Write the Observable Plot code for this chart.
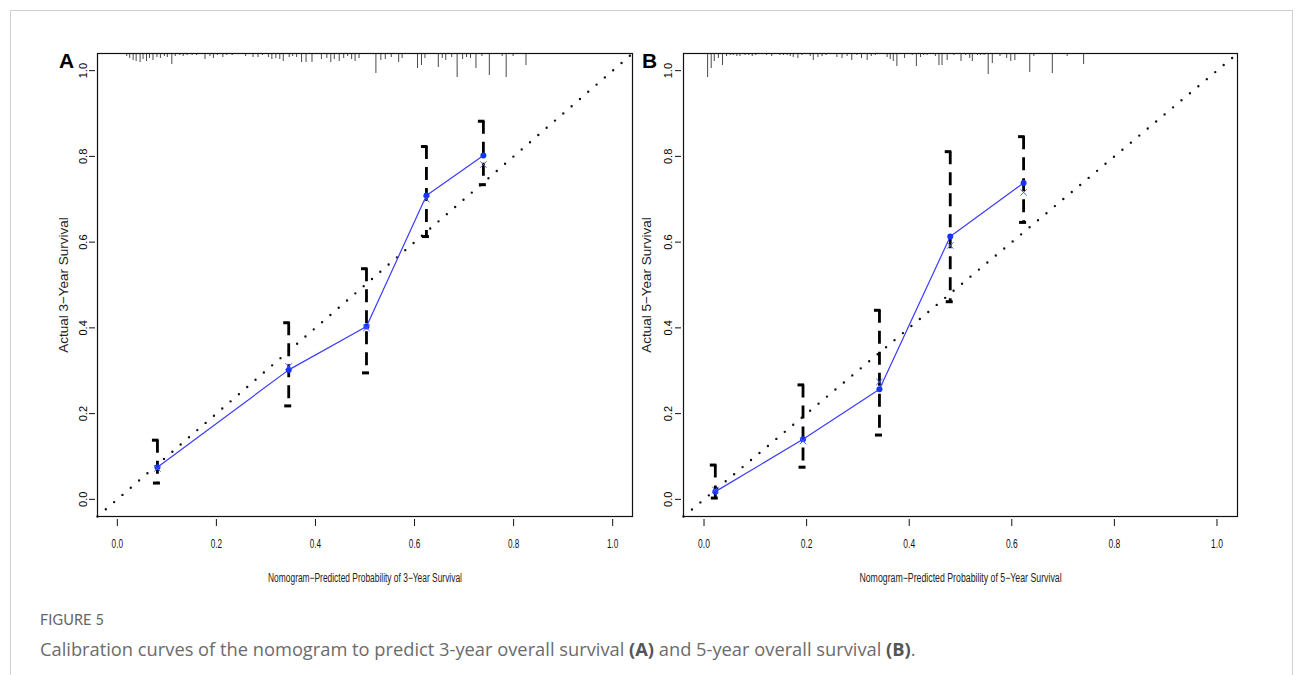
<!DOCTYPE html>
<html><head><meta charset="utf-8">
<script src="https://cdn.jsdelivr.net/npm/d3@7"></script>
<script src="https://cdn.jsdelivr.net/npm/@observablehq/plot@0.6"></script>
<style>
body{margin:0;background:#fff;width:1295px;height:675px;overflow:hidden;position:relative;}
#card{position:absolute;left:10px;top:10px;width:1283px;height:700px;border:1px solid #d0d0d0;border-bottom:none;box-sizing:border-box;}
#a{position:absolute;left:0;top:0;}
#b{position:absolute;left:638px;top:0;}
.fig{position:absolute;left:40px;top:611px;font-family:Lato,"Open Sans",sans-serif;font-size:14.5px;color:#666;letter-spacing:0.1px;}
.cap{position:absolute;left:40px;top:636px;font-family:"Open Sans",Lato,sans-serif;font-size:18.3px;color:#6b6b6b;white-space:nowrap;}
.cap b{color:#555;font-weight:700;}
</style></head><body>
<div id="card"></div>
<div id="a"></div>
<div id="b"></div>
<div class="fig">FIGURE 5</div>
<div class="cap">Calibration curves of the nomogram to predict 3-year overall survival <b>(A)</b> and 5-year overall survival <b>(B)</b>.</div>
<script>
// ---- Panel A: 3-year calibration ----
const predA = [0.081, 0.346, 0.503, 0.624, 0.739];
const obsA  = [0.075, 0.302, 0.403, 0.709, 0.802];
const loA   = [0.038, 0.218, 0.295, 0.613, 0.734];
const hiA   = [0.138, 0.412, 0.538, 0.823, 0.882];
const corrA = [0.072, 0.310, 0.400, 0.700, 0.781];
// rug of predicted probabilities (position, relative frequency)
const rugAx = [0.019,0.025,0.032,0.038,0.046,0.052,0.059,0.065,0.072,0.080,0.087,0.095,0.101,0.110,0.117,0.126,0.133,0.141,0.151,0.160,0.177,0.187,0.194,0.202,0.213,0.221,0.232,0.259,0.274,0.284,0.293,0.305,0.312,0.320,0.328,0.335,0.347,0.354,0.362,0.372,0.381,0.393,0.412,0.423,0.431,0.438,0.448,0.457,0.465,0.473,0.480,0.488,0.522,0.532,0.541,0.553,0.568,0.575,0.606,0.614,0.621,0.648,0.656,0.663,0.675,0.686,0.697,0.705,0.713,0.724,0.736,0.751,0.777,0.785,0.799,0.825];
const rugAn = [3,5,7,8,9,6,8,5,7,4,5,3,4,11,3,2,3,2,2,2,6,3,5,2,4,2,2,3,4,4,2,4,6,5,6,8,4,3,4,9,9,9,6,5,9,6,8,5,3,6,8,5,20,7,6,4,9,5,15,12,5,14,5,7,4,24,6,4,5,15,3,22,3,24,3,12];

// ---- Panel B: 5-year calibration ----
const predB = [0.022, 0.193, 0.342, 0.480, 0.623];
const obsB  = [0.018, 0.140, 0.257, 0.613, 0.738];
const loB   = [0.003, 0.075, 0.150, 0.461, 0.646];
const hiB   = [0.080, 0.267, 0.441, 0.811, 0.846];
const corrB = [0.022, 0.136, 0.274, 0.592, 0.716];
const rugBx = [0.007,0.014,0.020,0.028,0.036,0.044,0.051,0.057,0.064,0.070,0.080,0.087,0.094,0.101,0.122,0.132,0.148,0.155,0.162,0.168,0.174,0.183,0.191,0.207,0.213,0.222,0.230,0.238,0.259,0.269,0.279,0.288,0.298,0.307,0.318,0.326,0.334,0.357,0.363,0.369,0.376,0.391,0.406,0.414,0.422,0.428,0.435,0.451,0.458,0.464,0.474,0.487,0.501,0.510,0.518,0.523,0.533,0.539,0.546,0.554,0.562,0.577,0.590,0.598,0.606,0.635,0.643,0.679,0.708,0.740];
const rugBn = [24,15,8,5,12,3,2,2,3,3,2,2,3,2,2,3,2,2,2,3,4,5,2,3,7,4,3,2,4,5,3,7,2,5,7,3,2,4,6,8,13,5,2,13,4,2,2,3,12,12,7,2,8,2,5,8,2,2,2,21,10,3,5,8,7,19,3,20,3,11];

const xTicks = [0, 0.2, 0.4, 0.6, 0.8, 1.0];
const yTicks = [0, 0.2, 0.4, 0.6, 0.8, 1.0];
const ideal = [{from: -0.04, to: 1.04}];

const narrowTitle = "'Liberation Sans Narrow', 'Liberation Sans', sans-serif";
const narrowTick = "'Liberation Sans Narrow', 'Arial Narrow', 'Liberation Sans', sans-serif";
const sans = "'Liberation Sans', Arial, sans-serif";
const fmt = d3.format(".1f");

function panel(o) {
  const pts = o.pred.map((p, i) => ({pred: p, obs: o.obs[i], lo: o.lo[i], hi: o.hi[i], corr: o.corr[i]}));
  const rug = o.rugx.map((x, i) => ({x, n: o.rugn[i]}));
  const H = 600, mt = 53, mb = 84;
  const pxX = (o.w - o.ml - o.mr) / 1.08; // px per unit
  const pxY = (H - mt - mb) / 1.08;
  return Plot.plot({
    width: o.w, height: H,
    marginLeft: o.ml, marginRight: o.mr, marginTop: mt, marginBottom: mb,
    x: {domain: [-0.04, 1.04]},
    y: {domain: [-0.04, 1.04]},
    style: {background: "transparent", overflow: "visible", color: "#111"},
    marks: [
      Plot.ruleX(rug, {x: "x", y1: 1.04, y2: d => 1.04 - d.n / pxY, stroke: "#4a4a4a", strokeWidth: 1}),
      Plot.link(ideal, {x1: "from", y1: "from", x2: "to", y2: "to", stroke: "#111", strokeWidth: 2.4, strokeDasharray: "0,11", strokeLinecap: "round"}),
      Plot.ruleX(pts, {x: "pred", y1: "hi", y2: "lo", stroke: "#000", strokeWidth: 2.8, strokeDasharray: "13,8"}),
      Plot.ruleY(pts, {y: "hi", x1: d => d.pred - 5 / pxX, x2: d => d.pred + 1.5 / pxX, stroke: "#000", strokeWidth: 3}),
      Plot.ruleY(pts, {y: "lo", x1: d => d.pred - 4 / pxX, x2: d => d.pred + 3 / pxX, stroke: "#000", strokeWidth: 3}),
      Plot.line(pts, {x: "pred", y: "obs", stroke: "#3b3bff", strokeWidth: 1.2}),
      Plot.dot(pts, {x: "pred", y: "obs", r: 3, fill: "#1433ff"}),
      Plot.dot(pts, {x: "pred", y: "corr", symbol: "times", r: 3, stroke: "#4a5cff", strokeWidth: 1}),
      Plot.frame({stroke: "#111", strokeWidth: 1.2}),
      Plot.axisX(xTicks, {tickSize: 7, dy: 3, tickPadding: 12, tickFormat: fmt, fontFamily: narrowTick, fontSize: 13, label: null, stroke: "#111", fill: "#111"}),
      Plot.axisY(yTicks, {tickSize: 6, dx: -2, tickFormat: () => "", label: null, stroke: "#111"}),
      Plot.text(yTicks, {y: d => d, text: fmt, frameAnchor: "left", textAnchor: "middle", rotate: -90, dx: o.tickDx, fontFamily: sans, fontSize: 11, fill: "#000"}),
      Plot.text([o.ytitle], {text: d => d, frameAnchor: "left", textAnchor: "middle", rotate: -90, dx: o.titleDx, fontFamily: sans, fontSize: 13.5, fill: "#222"}),
      Plot.text([o.xtitle], {text: d => d, frameAnchor: "bottom", textAnchor: "middle", dy: 65, fontFamily: narrowTitle, fontSize: 12, fill: "#222"}),
      Plot.text([o.letter], {text: d => d, frameAnchor: "top-left", textAnchor: "middle", dx: o.letterDx, fontFamily: sans, fontWeight: "bold", fontSize: 21, fill: "#000"})
    ]
  });
}

function condense(svg, sel, ratio) {
  // emulate the condensed Helvetica of the original R graphic
  svg.querySelectorAll(sel).forEach(t => {
    const L = t.getComputedTextLength();
    t.setAttribute("textLength", (L * ratio).toFixed(1));
    t.setAttribute("lengthAdjust", "spacingAndGlyphs");
  });
}

const svgA = panel({
  w: 638, ml: 97, mr: 6,
  pred: predA, obs: obsA, lo: loA, hi: hiA, corr: corrA, rugx: rugAx, rugn: rugAn,
  ytitle: "Actual 3\u2212Year Survival", xtitle: "Nomogram\u2212Predicted Probability of 3\u2212Year Survival",
  letter: "A", tickDx: -14, titleDx: -34, letterDx: -31
});
document.getElementById("a").append(svgA);
const svgB = panel({
  w: 612, ml: 45, mr: 13,
  pred: predB, obs: obsB, lo: loB, hi: hiB, corr: corrB, rugx: rugBx, rugn: rugBn,
  ytitle: "Actual 5\u2212Year Survival", xtitle: "Nomogram\u2212Predicted Probability of 5\u2212Year Survival",
  letter: "B", tickDx: -15, titleDx: -37, letterDx: -34
});
document.getElementById("b").append(svgB);
const tickSel = 'g[font-family*="Arial Narrow"] text';
const titleSel = 'g[font-family="' + narrowTitle + '"] text';
condense(svgA, tickSel, 0.63);
condense(svgB, tickSel, 0.65);
condense(svgA, titleSel, 0.70);
condense(svgB, titleSel, 0.73);
</script>
</body></html>
